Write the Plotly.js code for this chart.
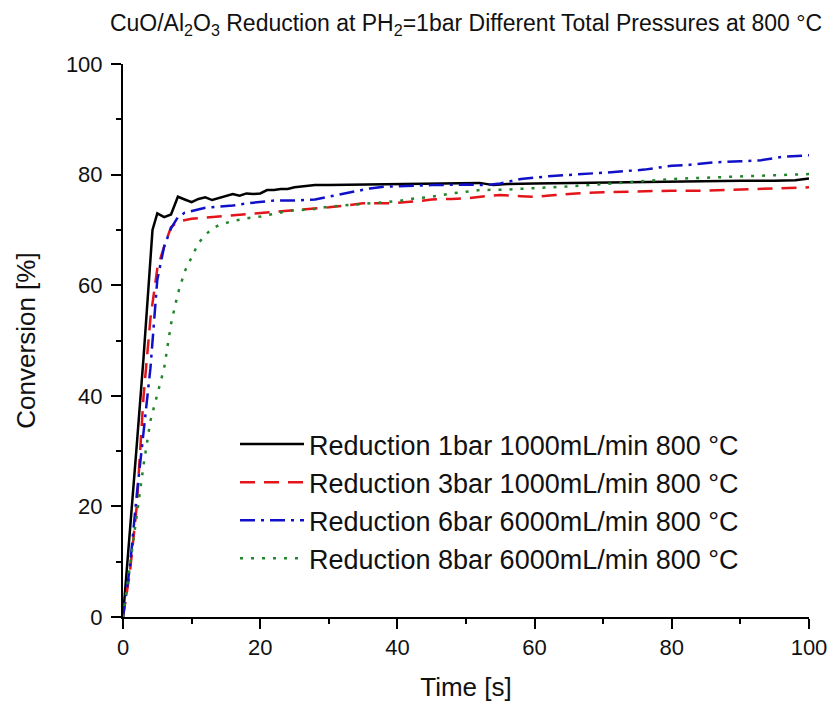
<!DOCTYPE html>
<html>
<head>
<meta charset="utf-8">
<script src="https://cdn.plot.ly/plotly-3.0.1.min.js"></script>
<style>html,body{margin:0;padding:0;background:#fff;}#chart{width:833px;height:706px;}</style>
</head>
<body>
<div id="chart"></div>
<script>
// ---- data ----
var seriesNames = [
  "Reduction 1bar 1000mL/min 800 °C",
  "Reduction 3bar 1000mL/min 800 °C",
  "Reduction 6bar 6000mL/min 800 °C",
  "Reduction 8bar 6000mL/min 800 °C"
];

var t1 = [0,1,2,3,4,4.3,5,6,7,8,9,10,11,12,13,14,15,16,17,18,19,20,21,22,23,24,25,26,27,28,30,35,40,45,50,52,54,56,60,65,70,75,80,85,90,95,98,100];
var y1 = [0,15,31,47,64,70,73,72.3,72.8,76,75.5,75,75.6,75.9,75.4,75.8,76.1,76.5,76.2,76.6,76.5,76.6,77.2,77.2,77.4,77.4,77.7,77.8,77.9,78.1,78.1,78.2,78.3,78.4,78.5,78.5,78.1,78.3,78.4,78.5,78.6,78.7,78.8,78.9,78.9,78.9,79.0,79.3];

var t3 = [0,1,2,3,4,5,6,7,8,9,10,11,13,15,18,20,23,25,28,30,33,35,38,40,43,45,48,50,53,55,58,60,63,66,70,75,80,85,90,95,100];
var y3 = [0,8,20,40,54,63,67,70.5,71.5,71.8,72,72.1,72.3,72.5,72.8,73,73.3,73.6,73.9,74.1,74.5,74.8,74.8,74.9,75.2,75.5,75.6,75.7,76.1,76.3,76.1,76,76.3,76.6,76.8,77,77.1,77.1,77.3,77.5,77.7];

var t6 = [0,1,2,3,4,5,6,7,8,9,10,11,12,13,14,15,16,18,20,22,25,28,30,33,36,38,40,45,50,53,55,58,62,66,70,72,76,80,82,86,90,93,96,100];
var y6 = [0,9,22,34,45,61,67,70.3,72.3,73.1,73.4,73.7,74,74.1,74.2,74.3,74.4,74.8,75.1,75.3,75.3,75.5,76,76.7,77.5,77.8,77.9,78.1,78.2,78.1,78.4,79.2,79.7,80,80.3,80.5,80.9,81.6,81.7,82.2,82.4,82.6,83.2,83.5];

var t8 = [0,1,2,3,4,5,6,7,8,9,10,11,12,13,14,15,16,18,20,22,24,26,28,30,34,38,40,42,45,48,52,56,60,64,68,72,76,80,84,88,92,96,100];
var y8 = [0,9,18.5,27.5,35.5,40.5,45,53,58.5,62.5,65.2,67.6,69.1,70.2,70.9,71.3,71.6,72.1,72.4,72.9,73.4,73.6,73.8,74.2,74.6,75,75.2,75.6,76,76.6,77.2,77.3,77.5,77.8,78.1,78.5,78.9,79.2,79.4,79.6,79.8,80,80.1];

var xTicks = [0,20,40,60,80,100];
var yTicks = [0,20,40,60,80,100];

var fontFam = "Liberation Sans, Arial, sans-serif";

function tr(x, y, name, color, dash) {
  return {x: x, y: y, name: name, type: "scatter", mode: "lines",
          line: {color: color, width: 2.5, dash: dash}};
}

var data = [
  tr(t1, y1, seriesNames[0], "#000000", "solid"),
  tr(t3, y3, seriesNames[1], "#e3141a", "15px,9px"),
  tr(t6, y6, seriesNames[2], "#1010c8", "15px,6px,3px,6px"),
  tr(t8, y8, seriesNames[3], "#22862a", "3px,8px")
];

var axisCommon = {
  showgrid: false, zeroline: false, showline: true, linecolor: "#000", linewidth: 2,
  ticks: "outside", ticklen: 10, tickwidth: 2, tickcolor: "#000",
  tickfont: {family: fontFam, size: 22, color: "#111"},
  minor: {ticks: "outside", ticklen: 5, tickwidth: 2, tickcolor: "#000", dtick: 10}
};

var layout = {
  width: 833, height: 706,
  margin: {l: 123, r: 24, t: 64, b: 89},
  paper_bgcolor: "#fff", plot_bgcolor: "#fff",
  font: {family: fontFam, color: "#111"},
  title: {text: "CuO/Al<sub>2</sub>O<sub>3</sub> Reduction at PH<sub>2</sub>=1bar Different Total Pressures at 800 °C",
          font: {family: fontFam, size: 23, color: "#111"},
          x: 466/833, xanchor: "center", xref: "container",
          y: 1 - 23/706, yanchor: "middle", yref: "container"},
  xaxis: Object.assign({}, axisCommon, {
    range: [0, 100], tickvals: xTicks, ticktext: xTicks.map(String),
    title: {text: "Time [s]", font: {family: fontFam, size: 26, color: "#111"}, standoff: 18}
  }),
  yaxis: Object.assign({}, axisCommon, {
    range: [0, 100], tickvals: yTicks, ticktext: yTicks.map(String), ticklabelstandoff: 4,
    title: {text: "Conversion [%]", font: {family: fontFam, size: 26, color: "#111"}, standoff: 23}
  }),
  xaxis2: {overlaying: "x", side: "top", anchor: "y", range: [0, 100], showgrid: false, zeroline: false,
           showline: true, linecolor: "#000", linewidth: 2, showticklabels: false,
           ticks: "inside", ticklen: 10, tickwidth: 2, tickcolor: "#000", tickvals: xTicks,
           minor: {ticks: "inside", ticklen: 5, tickwidth: 2, tickcolor: "#000", dtick: 10}},
  yaxis2: {overlaying: "y", side: "right", anchor: "x", range: [0, 100], showgrid: false, zeroline: false,
           showline: true, linecolor: "#000", linewidth: 2, showticklabels: false,
           ticks: "inside", ticklen: 10, tickwidth: 2, tickcolor: "#000", tickvals: yTicks,
           minor: {ticks: "inside", ticklen: 5, tickwidth: 2, tickcolor: "#000", dtick: 10}},
  showlegend: true,
  legend: {x: (235 - 123) / 686, y: (617 - 420) / 553, xanchor: "left", yanchor: "top",
           bgcolor: "rgba(0,0,0,0)", borderwidth: 0, itemwidth: 64,
           font: {family: fontFam, size: 27, color: "#111"}, tracegroupgap: 0}
};

Plotly.newPlot("chart", data, layout, {displayModeBar: false, staticPlot: true});
</script>
</body>
</html>
